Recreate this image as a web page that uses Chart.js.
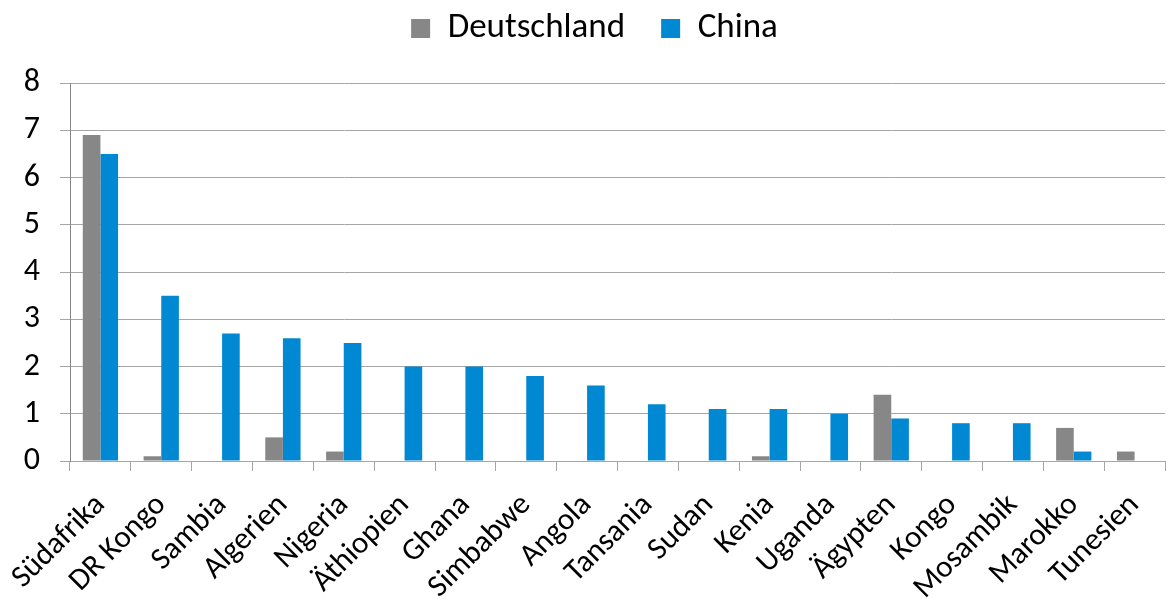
<!DOCTYPE html>
<html>
<head>
<meta charset="utf-8">
<script src="https://cdn.jsdelivr.net/npm/chart.js@4/dist/chart.umd.min.js"></script>
<style>
    html, body { margin: 0; padding: 0; background: #fff; }
    #wrap { width: 1167px; height: 599px; }
</style>
</head>
<body>
<div id="wrap"><canvas id="afrikaCanvas"></canvas></div>
<script>
// Länder (Kategorien)
const laender = ['Südafrika', 'DR Kongo', 'Sambia', 'Algerien', 'Nigeria', 'Äthiopien', 'Ghana',
    'Simbabwe', 'Angola', 'Tansania', 'Sudan', 'Kenia', 'Uganda', 'Ägypten', 'Kongo',
    'Mosambik', 'Marokko', 'Tunesien'];

// Werte je Land
const werteDeutschland = [6.9, 0.1, 0, 0.5, 0.2, 0, 0, 0, 0, 0, 0, 0.1, 0, 1.4, 0, 0, 0.7, 0.2];
const werteChina = [6.5, 3.5, 2.7, 2.6, 2.5, 2.0, 2.0, 1.8, 1.6, 1.2, 1.1, 1.1, 1.0, 0.9, 0.8, 0.8, 0.2, 0];

// Y-Achse
const yTicks = [0, 1, 2, 3, 4, 5, 6, 7, 8];

const schrift = 'Carlito, "Liberation Sans", sans-serif';

// Legende etwas höher machen, damit der Plotbereich tiefer beginnt
const legendeAbstand = {
    id: 'legendeAbstand',
    beforeInit(chart) {
        const fitOriginal = chart.legend.fit;
        chart.legend.fit = function () {
            fitOriginal.bind(chart.legend)();
            this.height = 108;
        };
    },
    afterUpdate(chart) {
        // Legende leicht nach rechts, wie im Original
        chart.legend.left += 12;
        chart.legend.right += 12;
    }
};

const ctx = document.getElementById('afrikaCanvas').getContext('2d');
const grafico = new Chart(ctx, {
    type: 'bar',
    data: {
        labels: laender,
        datasets: [{
            label: 'Deutschland',
            data: werteDeutschland,
            backgroundColor: '#878787',
            barPercentage: 1,
            categoryPercentage: 0.58
        }, {
            label: 'China',
            data: werteChina,
            backgroundColor: '#0089d2',
            barPercentage: 1,
            categoryPercentage: 0.58
        }]
    },
    plugins: [legendeAbstand],
    options: {
        responsive: true,
        maintainAspectRatio: false,
        animation: false,
        layout: {
            padding: { left: 0, right: 2, top: -25, bottom: 0 }
        },
        scales: {
            x: {
                afterFit: axis => {
                    axis.height = 138;
                    // gedrehte Beschriftung soll den Plotbereich nicht verschieben
                    axis.paddingLeft = 0;
                    axis.paddingRight = 0;
                },
                grid: {
                    display: true,
                    drawOnChartArea: false,
                    drawTicks: true,
                    tickLength: 10,
                    color: '#a6a6a6'
                },
                border: { color: '#a6a6a6' },
                ticks: {
                    autoSkip: false,
                    maxRotation: 45,
                    minRotation: 45,
                    padding: 16,
                    color: '#000',
                    font: { family: schrift, size: 31 }
                }
            },
            y: {
                min: 0,
                max: yTicks[yTicks.length - 1],
                afterFit: axis => { axis.width = 70; },
                afterBuildTicks: axis => {
                    axis.ticks = yTicks.map(v => ({ value: v }));
                },
                grid: {
                    color: '#a6a6a6',
                    drawTicks: true,
                    tickLength: 10
                },
                border: { color: '#878787' },
                ticks: {
                    color: '#000',
                    padding: 20,
                    font: { family: schrift, size: 32 }
                }
            }
        },
        plugins: {
            legend: {
                display: true,
                position: 'top',
                labels: {
                    color: '#000',
                    boxWidth: 19,
                    boxHeight: 19,
                    padding: 36,
                    font: { family: schrift, size: 35 }
                }
            },
            tooltip: { enabled: false }
        }
    }
});
</script>
</body>
</html>
